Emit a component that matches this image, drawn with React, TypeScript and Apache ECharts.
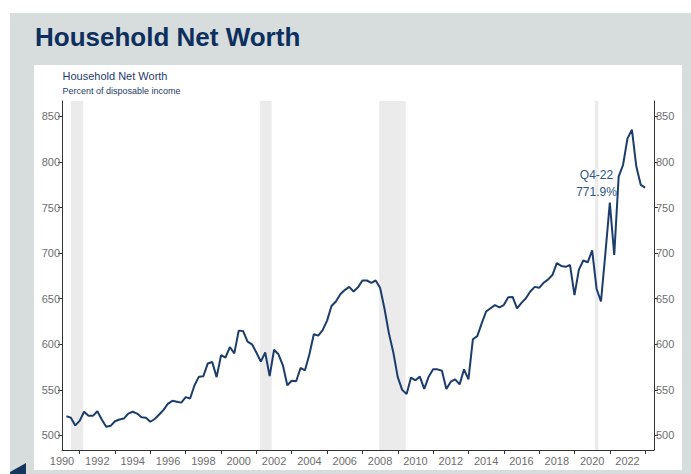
import React, { useEffect, useRef } from "react";
import * as echarts from "echarts";

// Household net worth, percent of disposable income, quarterly Q1-1990 .. Q4-2022
const firstYear = 1990;
const netWorth = [
  521, 519.5, 511, 516, 526, 521.5, 521.5, 526.5, 517.5, 509.5, 510.5, 515.5,
  517.5, 518.5, 524, 526, 524, 520, 519.5, 515, 518, 523, 528, 535,
  538, 537, 536, 542, 540.5, 555, 564.5, 565, 579, 580.5, 564, 588,
  585.5, 597, 590, 615, 614.5, 603, 600, 591, 581, 591, 565, 594,
  589, 577, 555, 560, 559.5, 574, 571.5, 589, 611, 609.5, 615.5, 626,
  642, 647, 655, 659.5, 663, 658, 662.5, 670, 670, 667.5, 670, 662,
  639, 612, 591, 564, 550, 545.5, 563.5, 560.5, 564.5, 551, 564.5, 572.5,
  572.5, 571, 551, 559, 561.5, 556, 572.5, 561.5, 605.5, 609, 623, 636,
  639.5, 643, 640.5, 643, 651.5, 652, 639.5, 645.5, 650.5, 658, 663, 662,
  667.5, 671, 676, 689, 686, 685, 687, 654, 682, 692, 690, 703,
  661, 647, 700, 755.5, 698, 784, 797, 826, 835.5, 795, 775, 771.9,
];

// NBER recessions (decimal years)
const recessions: [number, number][] = [
  [1990.5, 1991.2],
  [2001.2, 2001.87],
  [2007.95, 2009.45],
  [2020.15, 2020.35],
];

const yTicks = [500, 550, 600, 650, 700, 750, 800, 850];
const xLabelYears = [1990, 1992, 1994, 1996, 1998, 2000, 2002, 2004, 2006, 2008, 2010, 2012, 2014, 2016, 2018, 2020, 2022];
const xTickYears = [1991, 1993, 1995, 1997, 1999, 2001, 2003, 2005, 2007, 2009, 2011, 2013, 2015, 2017, 2019, 2021, 2023];

const title = "Household Net Worth";
const subTitle = "Household Net Worth";
const unitLabel = "Percent of disposable income";
const lastLabel = "Q4-22";
const lastValueLabel = "771.9%";

const FONT = "Liberation Sans, Arial, sans-serif";
const LABEL_COLOR = "#6e6e6e";

export default function App() {
  const ref = useRef<HTMLDivElement>(null);

  useEffect(() => {
    if (!ref.current) return;
    const chart = echarts.init(ref.current, undefined, { renderer: "svg" });

    const seriesData = netWorth.map((v, i) => [firstYear + 0.25 * (i + 1), v]);

    const yAxisBase = (position: "left" | "right") => ({
      type: "value" as const,
      position,
      min: 484,
      max: 867,
      axisLine: { show: true, lineStyle: { color: "#333", width: 1 } },
      axisTick: { show: true, customValues: yTicks, length: 4, lineStyle: { color: "#333" } },
      axisLabel: {
        customValues: yTicks,
        color: LABEL_COLOR,
        fontSize: 11,
        fontFamily: FONT,
        margin: 2,
      },
      splitLine: { show: false },
    });

    chart.setOption({
      animation: false,
      backgroundColor: "#ffffff",
      textStyle: { color: LABEL_COLOR, fontFamily: FONT },
      graphic: [
        {
          type: "rect",
          z: -100,
          shape: { x: 10, y: 13, width: 681, height: 461 },
          style: { fill: "#d7dcdd" },
        },
        {
          type: "rect",
          z: -99,
          shape: { x: 34, y: 65, width: 648, height: 405 },
          style: { fill: "#ffffff" },
        },
        {
          type: "polygon",
          z: -98,
          shape: { points: [[10, 472], [26, 463], [26, 474], [10, 474]] },
          style: { fill: "#17365d" },
        },
        {
          type: "text",
          z: 10,
          x: 35,
          y: 36.5,
          style: {
            text: title,
            fill: "#0d2f5e",
            font: `bold 26px ${FONT}`,
            verticalAlign: "middle",
          },
        },
        {
          type: "text",
          z: 10,
          x: 62.5,
          y: 76,
          style: {
            text: subTitle,
            fill: "#1f3b6b",
            font: `11px ${FONT}`,
            verticalAlign: "middle",
          },
        },
        {
          type: "text",
          z: 10,
          x: 62.5,
          y: 90.5,
          style: {
            text: unitLabel,
            fill: "#1f3b6b",
            font: `9px ${FONT}`,
            verticalAlign: "middle",
          },
        },
        {
          type: "text",
          z: 10,
          x: 596.5,
          y: 175,
          style: {
            text: lastLabel,
            fill: "#2f5586",
            font: `12px ${FONT}`,
            align: "center",
            verticalAlign: "middle",
          },
        },
        {
          type: "text",
          z: 10,
          x: 596.5,
          y: 192,
          style: {
            text: lastValueLabel,
            fill: "#2f5586",
            font: `12px ${FONT}`,
            align: "center",
            verticalAlign: "middle",
          },
        },
      ],
      grid: { left: 62, right: 37, top: 101, bottom: 24 },
      xAxis: {
        type: "value",
        min: 1990,
        max: 2023.5,
        axisLine: { show: true, lineStyle: { color: "#333", width: 1 } },
        axisTick: { show: true, customValues: xTickYears, length: 4, lineStyle: { color: "#333" } },
        axisLabel: {
          customValues: xLabelYears,
          color: LABEL_COLOR,
          fontSize: 11,
          fontFamily: FONT,
          margin: 5,
          formatter: (v: number) => String(v),
        },
        splitLine: { show: false },
      },
      yAxis: [yAxisBase("left"), yAxisBase("right")],
      series: [
        {
          type: "line",
          data: seriesData,
          showSymbol: false,
          symbol: "none",
          z: 3,
          lineStyle: { color: "#1c3d6c", width: 2 },
          markArea: {
            silent: true,
            itemStyle: { color: "#ebebeb" },
            data: recessions.map(([a, b]) => [{ xAxis: a }, { xAxis: b }]),
          },
        },
      ],
    });

    return () => chart.dispose();
  }, []);

  return (
    <div
      ref={ref}
      style={{ position: "fixed", left: 0, top: 0, width: 691, height: 474 }}
    />
  );
}
